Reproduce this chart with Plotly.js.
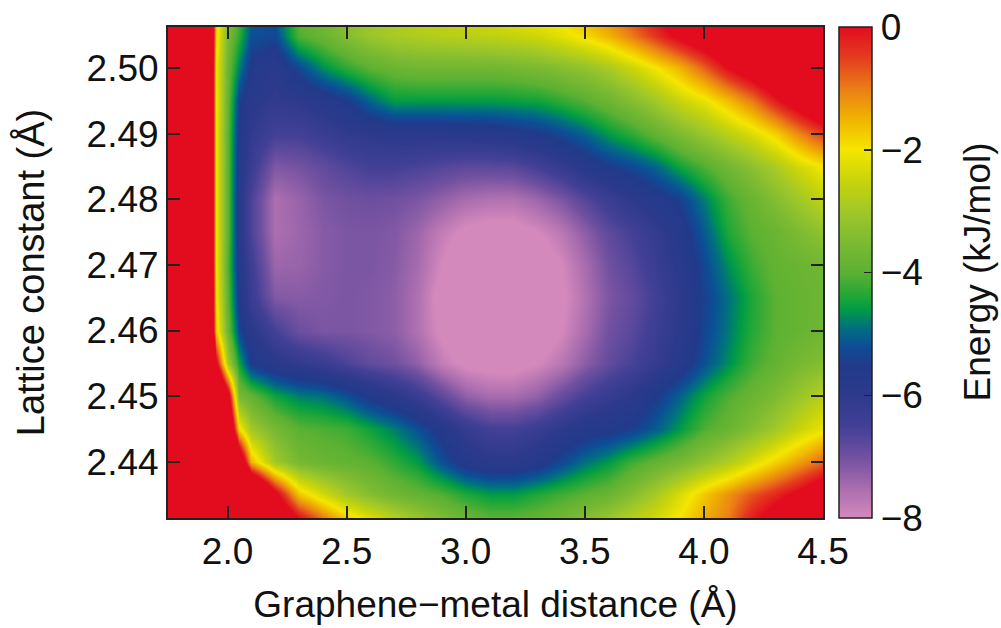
<!DOCTYPE html>
<html>
<head>
<meta charset="utf-8">
<script src="https://cdn.plot.ly/plotly-3.0.1.min.js"></script>
<style>
  html, body { margin: 0; padding: 0; background: #ffffff; }
  #chart { width: 1001px; height: 628px; }
</style>
</head>
<body>
<div id="chart"></div>
<script>
// Graphene–metal distance (Å), column centres of the energy grid
const distance = [1.75, 1.9, 1.95, 2.0, 2.05, 2.1, 2.2, 2.3, 2.4, 2.5, 2.6, 2.7, 2.8, 2.9, 3.0,
                  3.1, 3.2, 3.3, 3.4, 3.5, 3.6, 3.7, 3.8, 3.9, 4.0, 4.1, 4.2, 4.3, 4.4, 4.5];
// Lattice constant (Å), row centres of the energy grid
const lattice = [2.431, 2.435, 2.44, 2.445, 2.45, 2.455, 2.46, 2.465, 2.47, 2.475,
                 2.48, 2.485, 2.49, 2.495, 2.50, 2.505, 2.507];

// Energy (kJ/mol), one array per lattice constant
const e_2431 = [30, 20, 16, 12, 8, 5, 1.5, 0.2, -0.8, -1.6, -2.1, -2.6, -3.0, -3.4, -3.7, -3.9, -3.9, -3.8, -3.6, -3.3, -3.0, -2.6, -2.3, -1.9, -1.4, -1.0, -0.1, 0.5, 0.9, 1.3];
const e_2435 = [30, 16, 12, 9, 6, 3, 0.3, -1.7, -2.4, -3.0, -3.4, -3.7, -3.9, -4.1, -4.4, -4.6, -4.6, -4.4, -4.2, -4.0, -3.8, -3.4, -2.9, -2.3, -1.7, -1.2, -0.7, -0.3, 0.2, 0.8];
const e_2440 = [30, 14, 8, 5, 1.5, -1.5, -3.0, -3.6, -3.8, -3.9, -4.0, -4.3, -4.6, -5.2, -5.7, -5.9, -5.9, -5.7, -5.3, -4.9, -4.6, -4.2, -3.9, -3.6, -3.2, -2.8, -2.3, -1.8, -1.3, -0.8];
const e_2445 = [30, 12, 6, 2, -1.9, -3.0, -3.6, -4.0, -4.1, -4.2, -4.5, -4.8, -5.2, -5.7, -6.2, -6.5, -6.5, -6.3, -6.0, -5.7, -5.6, -5.4, -5.05, -4.6, -4.1, -3.8, -3.4, -3.0, -2.5, -2.1];
const e_2450 = [30, 10, 3, 0.5, -3.6, -3.9, -4.5, -4.8, -4.9, -5.2, -5.6, -5.9, -6.3, -6.8, -7.3, -7.5, -7.5, -7.3, -6.9, -6.5, -6.2, -5.95, -5.5, -5.0, -4.5, -4.1, -3.8, -3.5, -3.1, -2.7];
const e_2455 = [30, 8, 0.2, -3.0, -4.5, -5.5, -5.9, -6.1, -6.3, -6.6, -6.85, -7.0, -7.3, -7.8, -8.1, -8.2, -8.2, -8.0, -7.7, -7.25, -6.85, -6.55, -6.2, -5.8, -5.2, -4.7, -4.2, -3.9, -3.6, -3.4];
const e_2460 = [30, 6, -1.7, -3.8, -5.3, -5.9, -6.5, -6.95, -7.1, -7.1, -7.15, -7.25, -7.6, -8.1, -8.4, -8.5, -8.5, -8.4, -8.0, -7.5, -7.0, -6.75, -6.35, -5.95, -5.35, -4.85, -4.35, -4.0, -3.85, -3.7];
const e_2465 = [30, 6, -1.9, -4.0, -5.6, -6.3, -7.15, -7.2, -7.15, -7.1, -7.15, -7.25, -7.6, -8.2, -8.5, -8.6, -8.6, -8.5, -8.1, -7.6, -7.1, -6.85, -6.45, -6.0, -5.4, -4.9, -4.4, -4.0, -3.85, -3.75];
const e_2470 = [30, 6, -2.0, -4.1, -5.7, -6.4, -7.4, -7.35, -7.2, -7.1, -7.1, -7.2, -7.5, -8.0, -8.4, -8.5, -8.5, -8.4, -8.0, -7.5, -7.0, -6.7, -6.3, -5.9, -5.3, -4.7, -4.2, -3.9, -3.8, -3.7];
const e_2475 = [30, 6, -2.0, -4.0, -5.8, -6.6, -7.55, -7.4, -7.2, -7.1, -7.1, -7.15, -7.4, -7.8, -8.1, -8.2, -8.2, -8.0, -7.7, -7.25, -6.8, -6.5, -6.15, -5.75, -5.1, -4.4, -4.0, -3.8, -3.5, -3.2];
const e_2480 = [30, 6, -2.0, -4.0, -5.8, -6.6, -7.55, -7.35, -7.1, -7.0, -6.95, -7.0, -7.1, -7.3, -7.5, -7.6, -7.6, -7.4, -7.1, -6.7, -6.3, -6.0, -5.7, -5.4, -4.8, -4.2, -3.8, -3.4, -3.0, -2.6];
const e_2485 = [30, 6, -2.0, -4.0, -5.7, -6.3, -7.15, -7.05, -6.85, -6.65, -6.5, -6.5, -6.6, -6.7, -6.8, -6.8, -6.75, -6.5, -6.2, -5.8, -5.5, -5.3, -5.0, -4.5, -4.1, -3.7, -3.3, -2.9, -2.4, -2.0];
const e_2490 = [30, 6, -2.0, -4.0, -5.6, -6.1, -6.5, -6.5, -6.3, -6.1, -6.0, -5.9, -5.9, -5.9, -5.85, -5.8, -5.7, -5.55, -5.3, -5.0, -4.6, -4.3, -3.9, -3.5, -3.1, -2.7, -2.3, -1.8, -1.1, -0.5];
const e_2495 = [30, 6, -2.0, -3.9, -5.4, -5.9, -6.1, -6.0, -5.8, -5.5, -5.0, -4.6, -4.6, -4.6, -4.6, -4.6, -4.55, -4.5, -4.3, -4.05, -3.75, -3.4, -3.0, -2.5, -2.15, -1.6, -1.0, -0.2, 0.5, 1.2];
const e_2500 = [30, 6, -2.0, -3.8, -4.8, -5.6, -5.9, -5.3, -4.7, -4.3, -4.0, -3.8, -3.7, -3.7, -3.7, -3.7, -3.65, -3.55, -3.4, -3.2, -2.9, -2.5, -2.0, -1.5, -0.8, 0.0, 0.6, 1.2, 1.8, 2.4];
const e_2505 = [30, 6, -1.8, -3.6, -4.3, -5.2, -5.3, -4.1, -3.8, -3.4, -3.1, -2.9, -2.8, -2.75, -2.7, -2.65, -2.55, -2.45, -2.2, -1.9, -1.5, -1.0, -0.4, 0.2, 0.7, 1.2, 1.7, 2.2, 2.7, 3.2];
const e_2507 = [30, 6, -1.7, -3.4, -4.2, -5.1, -5.2, -4.0, -3.7, -3.3, -3.0, -2.85, -2.7, -2.6, -2.5, -2.4, -2.25, -2.1, -1.95, -1.6, -1.2, -0.7, -0.1, 0.4, 0.9, 1.4, 1.9, 2.4, 2.9, 3.4];

const energy = [e_2431, e_2435, e_2440, e_2445, e_2450, e_2455, e_2460, e_2465, e_2470,
                e_2475, e_2480, e_2485, e_2490, e_2495, e_2500, e_2505, e_2507];

const cbMin = -8, cbMax = 0;
const cbTicks = [0, -2, -4, -6, -8];
const cbInnerTicks = [-2, -4, -6];

const colorscale = [
  [0.0,    'rgb(212,137,188)'],
  [0.0625, 'rgb(168,108,174)'],
  [0.125,  'rgb(112,80,160)'],
  [0.1875, 'rgb(66,64,150)'],
  [0.25,   'rgb(45,58,140)'],
  [0.3125, 'rgb(33,58,138)'],
  [0.35,   'rgb(12,78,150)'],
  [0.3875, 'rgb(0,112,128)'],
  [0.425,  'rgb(0,155,70)'],
  [0.45,   'rgb(30,166,56)'],
  [0.5,    'rgb(92,177,50)'],
  [0.5625, 'rgb(125,186,50)'],
  [0.625,  'rgb(160,200,40)'],
  [0.6875, 'rgb(200,212,10)'],
  [0.75,   'rgb(244,230,0)'],
  [0.8125, 'rgb(240,180,0)'],
  [0.875,  'rgb(234,125,22)'],
  [0.9375, 'rgb(228,60,30)'],
  [1.0,    'rgb(226,12,30)']
];

const font = 'Liberation Sans, Arial, Helvetica, sans-serif';
const ink = '#111';

// geometry of the plot area / colour bar (pixels)
const W = 1001, H = 628;
const M = { l: 168, r: 178, t: 27, b: 110 };
const plotW = W - M.l - M.r;
const cbLeftPx = 839, cbThick = 33;
const cbX = (cbLeftPx - M.l) / plotW;
const cbTitleX = (977 - M.l) / plotW;

const trace = {
  type: 'heatmap',
  x: distance,
  y: lattice,
  z: energy,
  zmin: cbMin,
  zmax: cbMax,
  zsmooth: 'best',
  colorscale: colorscale,
  hoverinfo: 'x+y+z',
  colorbar: {
    x: cbX,
    xanchor: 'left',
    xpad: 0,
    y: 0.5,
    yanchor: 'middle',
    ypad: 0,
    len: 1,
    lenmode: 'fraction',
    thickness: cbThick,
    outlinewidth: 1.5,
    outlinecolor: '#222',
    tickvals: cbTicks,
    ticktext: cbTicks.map(v => v === 0 ? '0' : '\u2212' + Math.abs(v)),
    ticks: 'inside',
    ticklen: 8,
    tickwidth: 1.5,
    tickcolor: '#222',
    tickfont: { family: font, size: 37, color: ink }
  }
};

const axisCommon = {
  showline: true,
  linecolor: '#222',
  linewidth: 2,
  mirror: 'ticks',
  ticks: 'inside',
  ticklen: 12,
  tickwidth: 2,
  tickcolor: '#222',
  showgrid: false,
  zeroline: false,
  tickfont: { family: font, size: 37, color: ink }
};

// small dashes on the left edge of the colour bar
const cbShapes = cbInnerTicks.map(v => ({
  type: 'line',
  xref: 'paper', yref: 'paper',
  x0: cbX, x1: cbX + 8 / plotW,
  y0: (v - cbMin) / (cbMax - cbMin), y1: (v - cbMin) / (cbMax - cbMin),
  line: { color: '#222', width: 1.5 }
}));

const layout = {
  width: W,
  height: H,
  margin: M,
  paper_bgcolor: '#ffffff',
  plot_bgcolor: '#ffffff',
  font: { family: font, color: ink },
  xaxis: Object.assign({}, axisCommon, {
    range: [1.75, 4.5],
    tick0: 2.0,
    dtick: 0.5,
    tickformat: '.1f',
    title: { text: 'Graphene\u2212metal distance (Å)', font: { family: font, size: 37, color: ink }, standoff: 20 }
  }),
  yaxis: Object.assign({}, axisCommon, {
    range: [2.4314, 2.5063],
    tick0: 2.44,
    dtick: 0.01,
    tickformat: '.2f',
    title: { text: 'Lattice constant (Å)', font: { family: font, size: 38, color: ink }, standoff: 30 }
  }),
  shapes: cbShapes,
  annotations: [{
    text: 'Energy (kJ/mol)',
    xref: 'paper', yref: 'paper',
    x: cbTitleX, y: 0.5,
    xanchor: 'center', yanchor: 'middle',
    textangle: -90,
    showarrow: false,
    font: { family: font, size: 37, color: ink }
  }]
};

Plotly.newPlot('chart', [trace], layout, { displayModeBar: false, staticPlot: true });
</script>
</body>
</html>
